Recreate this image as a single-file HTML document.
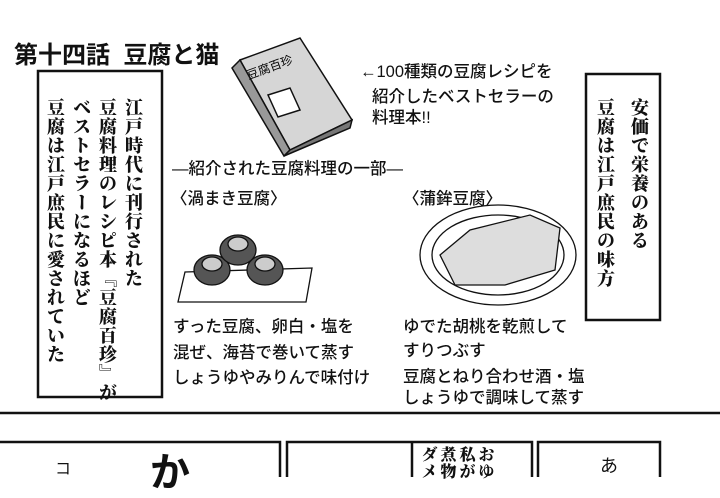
<!DOCTYPE html>
<html><head><meta charset="utf-8"><style>
body{margin:0;width:720px;height:477px;background:#fff;overflow:hidden;position:relative;font-family:"Liberation Sans","Noto Sans CJK JP",sans-serif;color:#111}
.a{position:absolute;white-space:nowrap}
.v{writing-mode:vertical-rl;font-family:"Liberation Serif","Noto Serif CJK SC",serif;font-weight:900;letter-spacing:1px}
.t{font-size:16.5px;line-height:17px;font-weight:500}
</style></head><body>
<svg class="a" style="left:0;top:0" width="720" height="477">
<rect x="38" y="71" width="124" height="326" fill="none" stroke="#111" stroke-width="2.5"/>
<rect x="586" y="74" width="74" height="246" fill="none" stroke="#111" stroke-width="2.5"/>
<line x1="0" y1="413" x2="720" y2="413" stroke="#111" stroke-width="2.5"/>
<path d="M0 442 H280 V477" fill="none" stroke="#111" stroke-width="2.5"/>
<path d="M287 477 V442 H532 V477 M412 442 V477" fill="none" stroke="#111" stroke-width="2.5"/>
<path d="M538 477 V442 H660 V477" fill="none" stroke="#111" stroke-width="2.5"/>
<g stroke="#111" stroke-width="1.5">
<polygon points="240,60 300,38 352,120 290,150" fill="#d6d6d6"/>
<polygon points="232,68 240,60 290,150 284,156" fill="#999"/>
<polygon points="284,156 290,150 352,120 350,128" fill="#777"/>
<polygon points="268,95 290,88 300,110 278,117" fill="#fff"/>
</g>
<text x="246" y="75" font-size="12" transform="rotate(-20 260 70)" font-family="Noto Sans CJK JP">豆腐百珍</text>
<g stroke="#111" stroke-width="1.3" fill="#fff">
<polygon points="185,272 312,268 306,302 178,302"/>
<ellipse cx="212" cy="270" rx="18" ry="15" fill="#555"/>
<ellipse cx="265" cy="270" rx="18" ry="15" fill="#555"/>
<ellipse cx="238" cy="250" rx="18" ry="15" fill="#555"/>
<ellipse cx="212" cy="264" rx="10" ry="7" fill="#ccc"/>
<ellipse cx="265" cy="264" rx="10" ry="7" fill="#ccc"/>
<ellipse cx="238" cy="244" rx="10" ry="7" fill="#ccc"/>
</g>
<g stroke="#111" stroke-width="1.3">
<ellipse cx="498" cy="255" rx="78" ry="50" fill="#fff"/>
<ellipse cx="498" cy="255" rx="66" ry="40" fill="none"/>
<polygon points="440,255 470,230 530,215 560,228 555,270 505,285 455,285" fill="#ddd"/>
</g>
</svg>
<div class="a" style="left:14px;top:35px;font-size:24px;font-weight:bold;font-family:'Liberation Sans','Noto Sans CJK JP',sans-serif;letter-spacing:0px">第十四話&nbsp;&nbsp;豆腐と猫</div>
<div class="a v" style="left:42px;top:98px;height:290px;font-size:18px;line-height:26px">江戸時代に刊行された<br>豆腐料理のレシピ本『豆腐百珍』が<br>ベストセラーになるほど<br>豆腐は江戸庶民に愛されていた</div>
<div class="a v" style="left:588px;top:98px;height:210px;font-size:18px;line-height:34px">安価で栄養のある<br>豆腐は江戸庶民の味方</div>
<div class="a t" style="left:360px;top:64px">←100種類の豆腐レシピを</div>
<div class="a t" style="left:372px;top:89px">紹介したベストセラーの</div>
<div class="a t" style="left:372px;top:110px">料理本!!</div>
<div class="a t" style="left:172px;top:161px">―紹介された豆腐料理の一部―</div>
<div class="a t" style="left:171px;top:191px">〈渦まき豆腐〉</div>
<div class="a t" style="left:403px;top:191px">〈蒲鉾豆腐〉</div>
<div class="a t" style="left:173px;top:319px">すった豆腐、卵白・塩を</div>
<div class="a t" style="left:173px;top:345px">混ぜ、海苔で巻いて蒸す</div>
<div class="a t" style="left:173px;top:370px">しょうゆやみりんで味付け</div>
<div class="a t" style="left:403px;top:319px">ゆでた胡桃を乾煎して</div>
<div class="a t" style="left:403px;top:343px">すりつぶす</div>
<div class="a t" style="left:403px;top:369px">豆腐とねり合わせ酒・塩</div>
<div class="a t" style="left:403px;top:390px">しょうゆで調味して蒸す</div>
<div class="a" style="left:150px;top:440px;font-size:40px;font-weight:bold">か</div>
<div class="a" style="left:55px;top:455px;font-size:16px">コ</div>
<div class="a v" style="left:418px;top:446px;height:34px;font-size:16px;line-height:19px">おゆ<br>私が<br>煮物<br>ダメ</div>
<div class="a" style="left:600px;top:452px;font-size:18px">あ</div>
</body></html>
